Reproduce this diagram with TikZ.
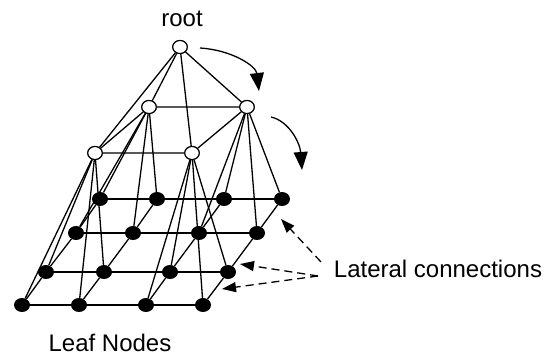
\documentclass[tikz,border=0pt]{standalone}
\usepackage{fontspec}
\setmainfont{Liberation Sans}
\usetikzlibrary{arrows.meta,shapes.geometric}

\begin{document}
\begin{tikzpicture}[x=1pt,y=-1pt,
  edge/.style={line width=1.3pt},
  inner/.style={ellipse,draw,line width=1.1pt,fill=white,minimum width=14.5pt,minimum height=13pt,inner sep=0pt},
  leaf/.style={ellipse,fill=black,minimum width=16pt,minimum height=14pt,inner sep=0pt},
  label/.style={font=\fontsize{24}{28}\selectfont,inner sep=0pt,anchor=base},
  turn/.style={line width=1.3pt,-{Triangle[length=18pt,width=14pt]}},
  pointer/.style={line width=1.3pt,dash pattern=on 8pt off 5pt,-{Triangle[length=14pt,width=10pt]}}]
\useasboundingbox (0,0) rectangle (547,356);

% upper levels of the hierarchy
\node[inner] (root) at (180,47) {};
\node[inner] (A) at (149,107) {};
\node[inner] (B) at (247,107) {};
\node[inner] (C) at (95,153) {};
\node[inner] (D) at (192,153) {};

% leaf grid, rows from back (1) to front (4)
\foreach \r/\y/\xa/\xb/\xc/\xd in {1/199/100/157/224/282, 2/233/76/133/199/257,
                                   3/272/46/104/170/228, 4/305/22/79/146/203}{
  \node[leaf] (l\r1) at (\xa,\y) {};
  \node[leaf] (l\r2) at (\xb,\y) {};
  \node[leaf] (l\r3) at (\xc,\y) {};
  \node[leaf] (l\r4) at (\xd,\y) {};
}

% lateral connections in the leaf grid
\foreach \r in {1,2,3,4}{
  \draw[edge] (l\r1) -- (l\r2) -- (l\r3) -- (l\r4);
}
\foreach \c in {1,2,3,4}{
  \draw[edge] (l1\c) -- (l2\c) -- (l3\c) -- (l4\c);
}

% lateral connections between the intermediate nodes
\draw[edge] (A) -- (B) -- (D) -- (C) -- (A);

% parent-child links
\foreach \n in {A,B,C,D}{ \draw[edge] (root) -- (\n); }
\foreach \p/\ra/\rb/\ca/\cb in {A/1/2/1/2, B/1/2/3/4, C/3/4/1/2, D/3/4/3/4}{
  \draw[edge] (\p) -- (l\ra\ca);
  \draw[edge] (\p) -- (l\ra\cb);
  \draw[edge] (\p) -- (l\rb\ca);
  \draw[edge] (\p) -- (l\rb\cb);
}

% redraw node faces over the links
\foreach \n/\x/\y in {root/180/47, A/149/107, B/247/107, C/95/153, D/192/153}{
  \node[inner] at (\x,\y) {};
}

% traversal arrows
\coordinate (t1s) at (200,48);
\coordinate (t1e) at (259,91);
\coordinate (t2s) at (271,117);
\coordinate (t2e) at (302,170);
\draw[turn] (t1s) .. controls (232,50) and (256,66) .. (t1e);
\draw[turn] (t2s) .. controls (289,121) and (300,143) .. (t2e);

% labels
\node[label] (rootlbl) at (182,27) {root};
\node[label] (leaflbl) at (110,351) {Leaf Nodes};
\node[label] (lat) at (438,277) {Lateral connections};

% dashed pointers to the lateral connections
\coordinate (p1) at (281,219);
\coordinate (p2) at (240,264);
\coordinate (p3) at (222,289);
\coordinate (q1) at (321,262);
\coordinate (q2) at (318,276);
\draw[pointer] (q1) -- (p1);
\draw[pointer] (q2) -- (p2);
\draw[pointer] (q2) -- (p3);
\end{tikzpicture}
\end{document}
